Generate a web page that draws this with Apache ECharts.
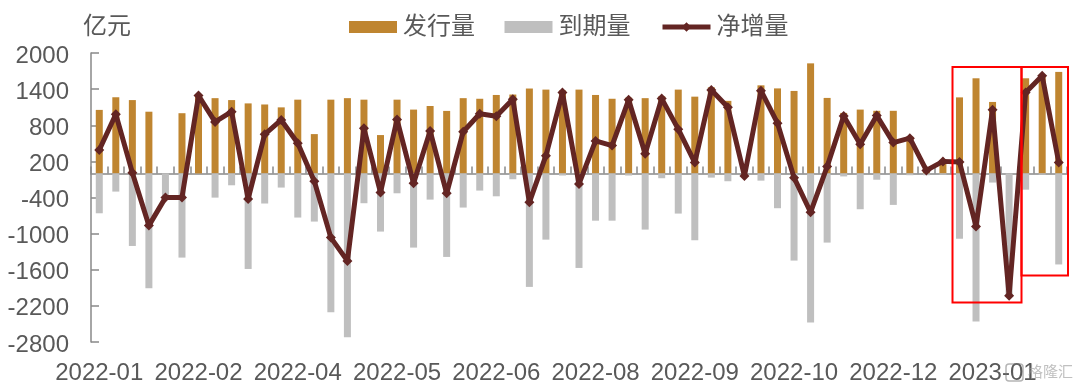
<!DOCTYPE html>
<html><head><meta charset="utf-8">
<style>html,body{margin:0;padding:0;background:#fff}#c{width:1080px;height:390px}</style>
<script src="https://cdn.jsdelivr.net/npm/echarts@6/dist/echarts.min.js"></script>
</head><body><div id="c"></div>
<script>
const categories = [
"2022-01","2022-01","2022-01","2022-01","2022-01","2022-01",
"2022-02","2022-02","2022-03","2022-03","2022-03","2022-03",
"2022-04","2022-04","2022-04","2022-04","2022-04","2022-05",
"2022-05","2022-05","2022-05","2022-05","2022-06","2022-06",
"2022-06","2022-06","2022-06","2022-07","2022-07","2022-07",
"2022-08","2022-08","2022-08","2022-08","2022-08","2022-08",
"2022-09","2022-09","2022-09","2022-09","2022-09","2022-10",
"2022-10","2022-10","2022-10","2022-11","2022-11","2022-11",
"2022-12","2022-12","2022-12","2022-12","2022-12","2022-12",
"2023-01","2023-01","2023-01","2023-01","2023-01"];
const issuance = [1055,1265,1218,1025,0,1000,1293,1250,1218,1163,1145,1097,1225,653,1225,1250,1225,637,1225,1060,1120,1038,1250,1240,1303,1310,1410,1392,1377,1392,1303,1240,1257,1250,1280,1392,1275,1430,1205,0,1463,1412,1370,1828,1254,1005,1060,1040,1040,610,80,225,1263,1580,1187,0,1580,1620,1686];
const maturity = [-662,-302,-1205,-1907,-400,-1398,0,-402,-197,-1587,-500,-235,-733,-800,-2306,-2722,-495,-966,-330,-1232,-435,-1387,-567,-285,-380,-97,-1885,-1100,-35,-1570,-785,-785,-35,-933,-80,-667,-1110,-70,-130,-42,-120,-578,-1448,-2478,-1149,-50,-595,-105,-523,-30,-30,-20,-1085,-2458,-152,-2030,-270,-20,-1512];
const netIncrease = [390,983,13,-867,-402,-398,1293,855,1025,-424,650,888,500,-130,-1066,-1453,750,-315,895,-165,705,-330,692,990,950,1232,-480,295,1342,-175,540,462,1222,325,1243,735,180,1387,1100,-42,1375,834,-70,-645,113,955,485,960,512,585,50,200,190,-880,1058,-2030,1345,1623,183];
const yTicks = [-2800,-2200,-1600,-1000,-400,200,800,1400,2000];
const seriesNames = ["发行量","到期量","净增量"];
const yUnit = "亿元";
const watermark = "格隆汇";

const txt = "#595959", axisC = "#898989";
const family = '"Liberation Sans","Noto Sans CJK SC",sans-serif';
const chart = echarts.init(document.getElementById('c'), null, {renderer:'canvas'});
chart.setOption({
  animation:false,
  backgroundColor:'#fff',
  title:{text:yUnit,left:78,top:10,textStyle:{color:txt,fontSize:24,fontWeight:'normal',fontFamily:family}},
  legend:{left:344,top:10,itemWidth:48,itemHeight:12,itemGap:29.5,
    data:[{name:seriesNames[0],icon:'rect'},{name:seriesNames[1],icon:'rect'},{name:seriesNames[2]}],
    lineStyle:{width:5},
    textStyle:{color:txt,fontSize:24,fontFamily:family,padding:[0,0,0,1]}},
  grid:{left:91,right:13,top:53,bottom:48},
  xAxis:[
    {type:'category',data:categories,position:'bottom',
     axisLine:{onZero:true,lineStyle:{color:axisC,width:1.5}},
     axisTick:{show:true,inside:true,length:7,interval:0,alignWithLabel:false,lineStyle:{color:axisC,width:1.5}},
     axisLabel:{show:false},splitLine:{show:false}},
    {type:'category',data:categories,position:'bottom',
     axisLine:{show:false,onZero:false},axisTick:{show:false},splitLine:{show:false},
     axisLabel:{show:true,interval:5,hideOverlap:false,color:txt,fontSize:24,fontFamily:family,margin:19}}
  ],
  yAxis:{type:'value',min:-2800,max:2000,splitLine:{show:false},
    axisLine:{show:true,onZero:false,lineStyle:{color:axisC,width:1.5}},
    axisTick:{show:true,inside:true,length:8,customValues:yTicks,lineStyle:{color:axisC,width:1.5}},
    axisLabel:{color:txt,fontSize:24,fontFamily:family,margin:22,customValues:yTicks,formatter:v=>String(v),verticalAlign:'top',padding:[-9,0,0,0]}},
  series:[
    {name:seriesNames[0],type:'bar',data:issuance,barWidth:7,barGap:'-100%',itemStyle:{color:'#BF8530'},z:2},
    {name:seriesNames[1],type:'bar',data:maturity,barWidth:7,barGap:'-100%',itemStyle:{color:'#BFBFBF'},z:2},
    {name:seriesNames[2],type:'line',data:netIncrease,xAxisIndex:0,symbol:'diamond',symbolSize:10,showSymbol:true,
     lineStyle:{color:'#632523',width:5,join:'bevel'},itemStyle:{color:'#632523'},z:5}
  ],
  graphic:[
    {type:'rect',shape:{x:952.5,y:67,width:69,height:235.5},style:{fill:'none',stroke:'#FF0000',lineWidth:2},z:50},
    {type:'rect',shape:{x:1021.5,y:67,width:46.5,height:208.5},style:{fill:'none',stroke:'#FF0000',lineWidth:2},z:50},
    {type:'rect',shape:{x:1006,y:364,width:17,height:17,r:3},style:{fill:'none',stroke:'rgba(120,120,120,0.55)',lineWidth:1.5},z:50},
    {type:'text',x:1028,y:365,style:{text:watermark,fill:'rgba(150,150,150,0.6)',fontSize:15,fontFamily:family},z:50}
  ]
});
</script></body></html>
